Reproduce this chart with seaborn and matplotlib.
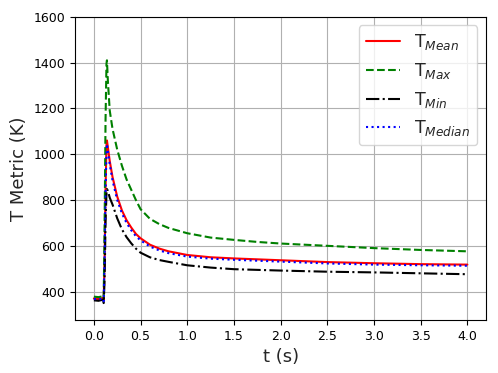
import matplotlib
matplotlib.use("Agg")
import matplotlib.pyplot as plt
import seaborn as sns
import pandas as pd

t = [0.0, 0.05, 0.10, 0.105, 0.115, 0.125, 0.135, 0.14, 0.15, 0.17, 0.20, 0.25,
     0.30, 0.35, 0.40, 0.45, 0.50, 0.60, 0.70, 0.80, 1.0, 1.25, 1.5, 1.75, 2.0,
     2.5, 3.0, 3.5, 4.0]
t_max = [378, 376, 380, 372, 700, 1150, 1395, 1410, 1320, 1190, 1110, 1020,
         950, 890, 845, 800, 760, 718, 695, 678, 655, 636, 626, 617, 610,
         600, 590, 582, 576]
t_mean = [370, 368, 372, 360, 550, 850, 1040, 1060, 1030, 970, 900, 815,
          755, 712, 680, 652, 633, 605, 588, 576, 560, 550, 545, 541, 537,
          529, 524, 520, 518]
t_median = [368, 366, 370, 358, 540, 830, 1020, 1045, 1015, 955, 885, 800,
            742, 700, 668, 642, 624, 597, 580, 568, 553, 544, 539, 535, 531,
            523, 518, 515, 513]
t_min = [362, 360, 365, 350, 450, 700, 830, 848, 840, 810, 780, 720,
         672, 638, 611, 588, 570, 550, 538, 530, 515, 505, 498, 495, 492,
         487, 484, 480, 476]

labels = [r'T$_{Mean}$', r'T$_{Max}$', r'T$_{Min}$', r'T$_{Median}$']
series = [t_mean, t_max, t_min, t_median]
colors = ['red', 'green', 'black', 'blue']
styles = ['-', '--', '-.', ':']

sns.set_style("white")
plt.rcParams['font.family'] = ['DejaVu Sans']

fig = plt.figure(figsize=(4.98, 3.73), dpi=100)
ax = fig.add_axes([0.151, 0.142, 0.825, 0.813])

for lab, vals, c, ls in zip(labels, series, colors, styles):
    df = pd.DataFrame({'t': t, 'v': vals})
    sns.lineplot(data=df, x='t', y='v', ax=ax, color=c, linestyle=ls,
                 linewidth=1.5, label=lab)

ax.set_xlim(-0.2, 4.2)
ax.set_ylim(276, 1600)
ax.set_xticks([0.0, 0.5, 1.0, 1.5, 2.0, 2.5, 3.0, 3.5, 4.0])
ax.set_yticks([400, 600, 800, 1000, 1200, 1400, 1600])
ax.grid(True, color='#b0b0b0', linewidth=0.8)
ax.tick_params(axis='both', labelsize=9, length=3.5, width=0.8, direction='out',
               bottom=True, left=True, colors='black')
for s in ax.spines.values():
    s.set_color('black')
    s.set_linewidth(0.8)
ax.set_xlabel('t (s)', fontsize=13)
ax.set_ylabel('T Metric (K)', fontsize=13)
ax.legend(loc='upper right', fontsize=12.5, frameon=True, framealpha=0.8,
          edgecolor='#cccccc', fancybox=True)

fig.savefig('out.png', dpi=100)
